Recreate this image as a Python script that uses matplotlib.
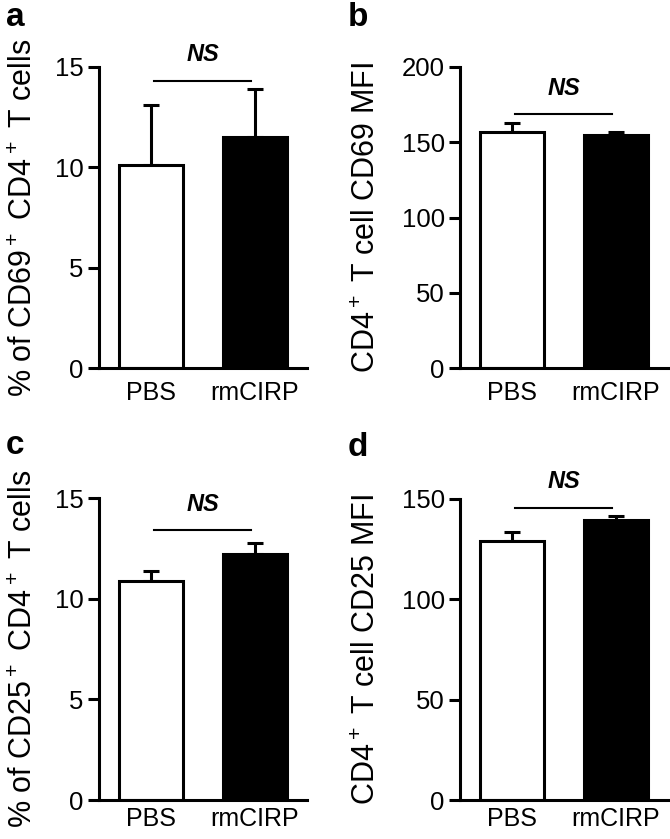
import matplotlib
matplotlib.use("Agg")
import matplotlib.pyplot as plt

plt.rcParams['font.family'] = ['Liberation Sans', 'DejaVu Sans']
plt.rcParams['mathtext.fontset'] = 'custom'
plt.rcParams['mathtext.rm'] = 'Liberation Sans'
plt.rcParams['mathtext.default'] = 'regular'

# datos
grupos = ['PBS', 'rmCIRP']
colores = ['white', 'black']

cd69_pct = [10.1, 11.5]
cd69_pct_err = [3.0, 2.4]
cd69_mfi = [157, 155]
cd69_mfi_err = [5.5, 1.5]
cd25_pct = [10.9, 12.2]
cd25_pct_err = [0.45, 0.55]
cd25_mfi = [129, 139.5]
cd25_mfi_err = [4.5, 2.0]

paneles = [
    ('a', cd69_pct, cd69_pct_err, [0, 5, 10, 15], r'% of CD69$^+$ CD4$^+$ T cells', 14.3, 15.6),
    ('b', cd69_mfi, cd69_mfi_err, [0, 50, 100, 150, 200], r'CD4$^+$ T cell CD69 MFI', 168.7, 186),
    ('c', cd25_pct, cd25_pct_err, [0, 5, 10, 15], r'% of CD25$^+$ CD4$^+$ T cells', 13.4, 14.7),
    ('d', cd25_mfi, cd25_mfi_err, [0, 50, 100, 150], r'CD4$^+$ T cell CD25 MFI', 145.5, 158.5),
]

W, H = 670, 839
fig = plt.figure(figsize=(W / 100, H / 100), dpi=100)

# [left, top, bottom] en pixeles
cajas = [(99, 67, 368), (460, 67, 368), (99, 498, 800), (460, 499, 800)]
letras_xy = [(15, 17), (358, 17), (15, 446), (358, 448)]
lab_x = [-0.29, -0.375, -0.29, -0.375]
pads_x = [9, 9, 5, 5]
lw = 2.2
fs = 18.5

for i, (letra, vals, errs, ticks, ylab, y_ns, y_txt) in enumerate(paneles):
    left, top, bottom = cajas[i]
    ax = fig.add_axes([left / W, (H - bottom) / H, 208 / W, (bottom - top) / H])
    x = range(len(grupos))
    ax.bar(x, vals, width=0.615, color=colores, edgecolor='black', linewidth=lw, zorder=2)
    ax.errorbar(x, vals, yerr=[[0] * len(errs), errs], fmt='none', ecolor='black',
                elinewidth=lw, capsize=5.5, capthick=lw, zorder=1)
    ax.set_xlim(-0.5, 1.5)
    ax.set_ylim(0, ticks[-1])
    ax.set_yticks(ticks)
    ax.set_xticks(list(x))
    ax.set_xticklabels(grupos)
    ax.tick_params(axis='y', direction='out', length=8, width=lw, labelsize=fs, pad=3)
    ax.tick_params(axis='x', length=0, labelsize=18, pad=pads_x[i])
    for s in ['top', 'right']:
        ax.spines[s].set_visible(False)
    for s in ['left', 'bottom']:
        ax.spines[s].set_linewidth(lw)
    ax.set_ylabel(ylab, fontsize=22)
    ax.yaxis.set_label_coords(lab_x[i], 0.5)
    ax.plot([0.03, 0.96], [y_ns, y_ns], color='black', lw=1.5, clip_on=False)
    ax.text(0.5, y_txt, 'NS', ha='center', va='center', fontsize=17,
            fontweight='bold', fontstyle='italic')
    lx, ly = letras_xy[i]
    fig.text(lx / W, 1 - ly / H, letra, fontsize=24, fontweight='bold',
             ha='center', va='center')

fig.savefig('out.png', dpi=100)
